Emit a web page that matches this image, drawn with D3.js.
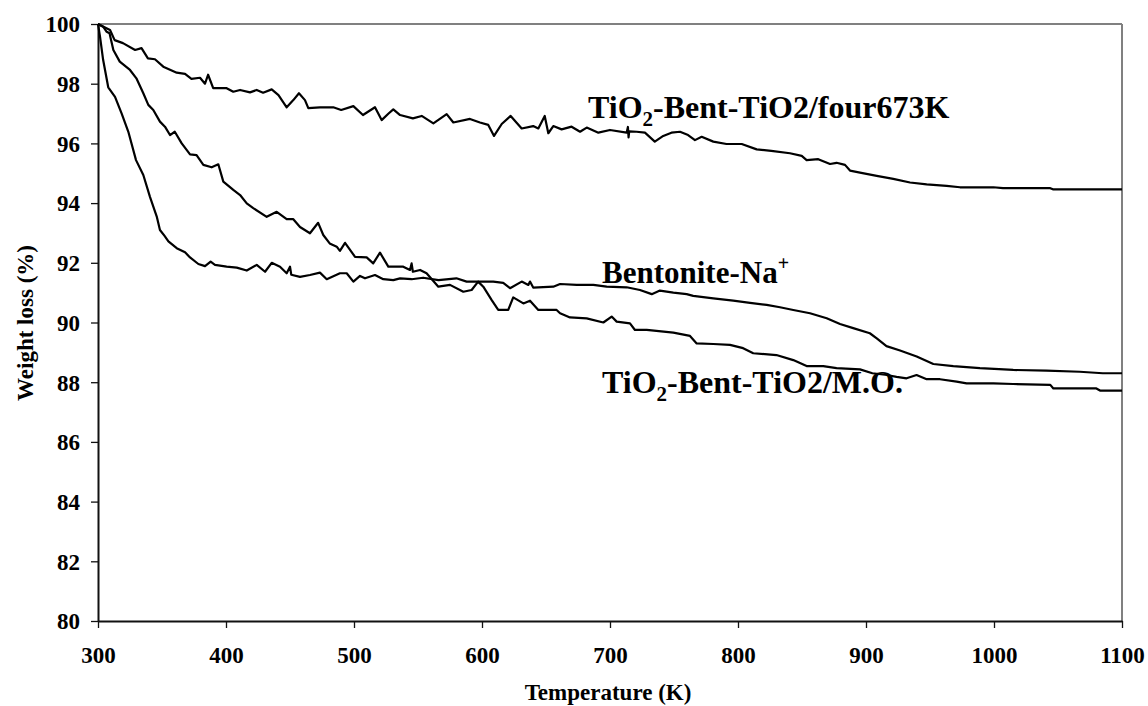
<!DOCTYPE html>
<html>
<head>
<meta charset="utf-8">
<script src="https://cdn.jsdelivr.net/npm/d3@7"></script>
<style>
  html, body { margin: 0; padding: 0; background: #fff; }
  svg { display: block; }
  svg text { font-family: "Times New Roman", "Liberation Serif", Times, "DejaVu Serif", serif !important; font-weight: bold; fill: #000; }
</style>
</head>
<body>
<svg id="chart" width="1148" height="706"></svg>
<script>
// ---- Data ----
const xTicks = [300, 400, 500, 600, 700, 800, 900, 1000, 1100];
const yTicks = [80, 82, 84, 86, 88, 90, 92, 94, 96, 98, 100];

// TiO2-Bent-TiO2/four673K
const tempFour = [300,309.4,313,319.5,329,334,339,344.5,351,361.5,368,373,379.7,383.6,386,390,400.5,405.7,411,418.75,424,429,435.7,441,447.4,452.6,457,461.7,464.3,473.4,483.8,490,499.5,507,516.4,521.6,527,530.7,536,546,552.9,562,572.4,577.6,590.6,598.4,604.9,609.4,615.4,622.4,631,640,644,649,651.8,655.7,662.2,670,676.6,681.8,690.9,700,713,714,714.5,715,720.8,727.3,735,741.6,748,754.7,761,766.4,771.6,780.7,791,802.9,814.6,826,840.6,849.8,853.6,862.7,871.9,877,883.6,887.5,895.3,908.4,921.3,934.4,947.4,963,973.4,999.5,1007,1044,1046,1100];
const weightFour = [100,99.8,99.46,99.36,99.13,99.19,98.85,98.82,98.57,98.37,98.33,98.16,98.2,98.0,98.3,97.85,97.85,97.73,97.79,97.71,97.79,97.7,97.81,97.62,97.21,97.45,97.68,97.45,97.18,97.21,97.21,97.12,97.25,96.95,97.21,96.78,97.0,97.14,96.95,96.84,96.92,96.67,96.98,96.7,96.82,96.7,96.62,96.25,96.65,96.92,96.5,96.58,96.5,96.92,96.34,96.58,96.47,96.56,96.39,96.53,96.36,96.45,96.36,96.55,96.2,96.4,96.39,96.36,96.06,96.25,96.36,96.39,96.28,96.11,96.22,96.06,95.98,95.98,95.8,95.75,95.67,95.58,95.44,95.47,95.31,95.35,95.28,95.09,95.02,94.91,94.81,94.69,94.63,94.58,94.53,94.53,94.5,94.5,94.46,94.46];

// Bentonite-Na+
const tempBent = [300,301.6,304,308,313.3,318.5,323.7,329.7,335.4,340.6,345.9,348.4,352,355,361.5,368,371.9,378.4,383.6,388,391.4,400.5,408.4,416.2,424,430.5,435.7,442.2,447.4,450,451,457.8,465.6,473.4,478.7,489,494.3,499.5,504.7,508.6,516.4,522.9,530.7,536,545,554,566,580,588,595.8,608.8,616.6,621.9,631,636.2,637.5,640,655.7,661,674,687,697.4,713,723.4,732.6,739,749.5,759.9,765,780.7,796.3,809.4,822.4,832.8,843.2,856.25,869.3,879.7,890,903,908.4,916,926.6,939.6,952.6,968.2,989,1015,1041,1067,1085,1100];
const weightBent = [100,99.57,98.8,97.88,97.56,97.0,96.39,95.44,94.94,94.21,93.55,93.1,92.9,92.72,92.49,92.35,92.18,91.96,91.89,92.04,91.93,91.87,91.84,91.74,91.93,91.7,92.0,91.87,91.65,91.87,91.6,91.53,91.59,91.67,91.45,91.65,91.65,91.37,91.56,91.48,91.59,91.45,91.42,91.48,91.45,91.5,91.42,91.48,91.37,91.37,91.37,91.33,91.15,91.37,91.26,91.37,91.17,91.2,91.29,91.26,91.26,91.2,91.18,91.09,90.95,91.07,91.0,90.95,90.89,90.81,90.73,90.66,90.59,90.51,90.42,90.31,90.14,89.95,89.81,89.64,89.47,89.21,89.06,88.86,88.61,88.54,88.47,88.41,88.39,88.35,88.3,88.3];

// TiO2-Bent-TiO2/M.O.
const tempMO = [300,304,306.8,309,312,317,325,330,335.4,339.3,343.2,348.4,352.3,356.25,360,365.4,371.9,377,382.3,388.8,394,397.9,405.7,411,416.2,421.3,431.8,439.6,447.4,452.6,457.8,465.6,472,476,481,486.5,489,493,500.8,509.9,515,520.3,526.8,538.5,543.75,545,546,551.6,556.7,565.9,575,585.4,591.9,597,601,607.6,612.7,620.5,624.4,632.3,637.5,644,658.3,661,668.75,681.8,694.8,701.3,705.2,715.6,719.5,728.7,749.5,762.5,767.7,780.7,793.75,804,811.9,830,843.2,853.6,866.6,877,895.3,905,915,923.9,931.7,939.5,947.4,957.8,970.8,978.6,999.5,1015,1044,1046.4,1080,1082.8,1100];
const weightMO = [100,99.91,99.74,99.69,99.13,98.74,98.46,98.18,97.68,97.29,97.12,96.73,96.56,96.28,96.39,96.0,95.63,95.61,95.28,95.2,95.3,94.72,94.44,94.27,93.99,93.83,93.54,93.71,93.46,93.46,93.2,92.99,93.34,92.93,92.65,92.54,92.4,92.67,92.2,92.18,91.98,92.34,91.87,91.87,91.76,91.98,91.7,91.76,91.65,91.2,91.26,91.03,91.09,91.37,91.2,90.75,90.42,90.42,90.84,90.64,90.73,90.42,90.42,90.31,90.17,90.14,90.0,90.2,90.03,89.97,89.75,89.75,89.66,89.55,89.3,89.28,89.25,89.14,88.97,88.91,88.74,88.54,88.54,88.47,88.43,88.3,88.25,88.18,88.13,88.24,88.1,88.1,88.02,87.96,87.96,87.94,87.91,87.79,87.79,87.72,87.72];

// ---- Layout ----
const W = 1148, H = 706;
const margin = { left: 98, top: 24, right: 26, bottom: 85 };
const iw = W - margin.left - margin.right;
const ih = H - margin.top - margin.bottom;
const FONT = '"Times New Roman", "Liberation Serif", Times, "DejaVu Serif", serif';

const svg = d3.select("#chart");
const g = svg.append("g").attr("transform", `translate(${margin.left},${margin.top})`);

const x = d3.scaleLinear().domain([300, 1100]).range([0, iw]);
const y = d3.scaleLinear().domain([80, 100]).range([ih, 0]);

// frame top & right (gray)
g.append("line").attr("x1", 0).attr("x2", iw).attr("y1", y(100)).attr("y2", y(100))
  .attr("stroke", "#808080").attr("stroke-width", 2);
g.append("line").attr("x1", iw).attr("x2", iw).attr("y1", 0).attr("y2", ih)
  .attr("stroke", "#808080").attr("stroke-width", 2);

// axes
const xAxis = g.append("g").attr("transform", `translate(0,${ih})`)
  .call(d3.axisBottom(x).tickValues(xTicks).tickFormat(d3.format("d")).tickSize(7).tickSizeOuter(0));
xAxis.attr("font-family", FONT);
xAxis.selectAll("text").attr("dy", null).attr("y", 42).style("font-size", "23px");

const yAxis = g.append("g")
  .call(d3.axisLeft(y).tickValues(yTicks).tickFormat(d3.format("d")).tickSize(7).tickPadding(11).tickSizeOuter(0));
yAxis.attr("font-family", FONT);
yAxis.selectAll("text").style("font-size", "23px").attr("dy", "0.34em");

[xAxis, yAxis].forEach(a => {
  a.select(".domain").attr("stroke", "#111").attr("stroke-width", 2);
  a.selectAll(".tick line").attr("stroke", "#111").attr("stroke-width", 1.3);
  a.selectAll("text").attr("fill", "#000").style("font-family", FONT).style("font-weight", "bold");
});

// series
const line = d3.line().x(d => x(d[0])).y(d => y(d[1]));
const series = [
  d3.zip(tempFour, weightFour),
  d3.zip(tempBent, weightBent),
  d3.zip(tempMO, weightMO)
];
series.forEach(s => {
  g.append("path").datum(s).attr("d", line)
    .attr("fill", "none").attr("stroke", "#000").attr("stroke-width", 2.2)
    .attr("stroke-linejoin", "round");
});

// axis titles
svg.append("text").attr("x", margin.left + x(700) - 2).attr("y", 700)
  .attr("text-anchor", "middle").style("font-family", FONT).style("font-size", "23px").text("Temperature (K)");
svg.append("text").attr("transform", "translate(33,323) rotate(-90)")
  .attr("text-anchor", "middle").style("font-family", FONT).style("font-size", "23px").text("Weight loss (%)");

// annotations
function subLabel(xp, yp, size, parts) {
  const t = svg.append("text").attr("x", xp).attr("y", yp).style("font-family", FONT).style("font-size", size + "px");
  parts.forEach(p => {
    const ts = t.append("tspan").text(p.t);
    if (p.sub) ts.style("font-size", "21px").attr("dy", 8);
    if (p.sup) ts.style("font-size", "20px").attr("dy", -13);
    if (p.back) ts.attr("dy", p.back);
  });
}
subLabel(588, 118, 32, [{t: "TiO"}, {t: "2", sub: true}, {t: "-Bent-TiO2/four673K", back: -8}]);
subLabel(602, 283, 31, [{t: "Bentonite-Na"}, {t: "+", sup: true}]);
subLabel(602, 393, 32, [{t: "TiO"}, {t: "2", sub: true}, {t: "-Bent-TiO2/M.O.", back: -8}]);
</script>
</body>
</html>
